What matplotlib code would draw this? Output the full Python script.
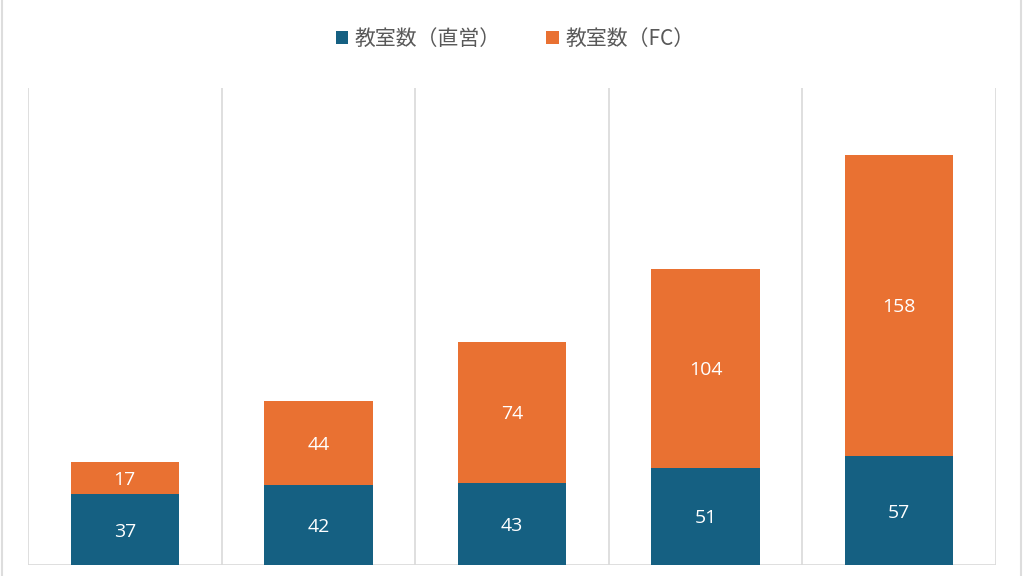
import matplotlib.pyplot as plt
import numpy as np
from matplotlib.lines import Line2D

plt.rcParams['font.family'] = ['Noto Sans CJK JP', 'DejaVu Sans']

# data
categories = ['1', '2', '3', '4', '5']
direct = [37, 42, 43, 51, 57]
fc = [17, 44, 74, 104, 158]
labels = ['教室数（直営）', '教室数（FC）']

blue = '#156082'
orange = '#E97132'
grid = '#D9D9D9'

fig = plt.figure(figsize=(10.24, 5.76), dpi=100)
ax = fig.add_axes([0.0273, 0.0191, 0.9454, 0.8281])

x = np.arange(len(categories))
w = 0.56
b1 = ax.bar(x, direct, w, color=blue, label=labels[0], zorder=3)
b2 = ax.bar(x, fc, w, bottom=direct, color=orange, label=labels[1], zorder=3)

for bars, vals, bottoms in [(b1, direct, [0] * 5), (b2, fc, direct)]:
    for rect, v, b in zip(bars, vals, bottoms):
        ax.text(rect.get_x() + rect.get_width() / 2, b + v / 2 - 1, str(v),
                ha='center', va='center', color='white', fontsize=14,
                family='Open Sans', zorder=4)

ax.set_xlim(-0.5, len(categories) - 0.5)
ax.set_ylim(0, 250)
for xv in np.arange(-0.5, len(categories), 1.0):
    ax.axvline(xv, color=grid, lw=1.2, zorder=1)
ax.axhline(0, color=grid, lw=1.2, zorder=2)
for s in ax.spines.values():
    s.set_visible(False)
ax.set_xticks([])
ax.set_yticks([])

fig.legend(handles=[b1, b2], labels=labels, loc='center', bbox_to_anchor=(0.503, 0.932),
           ncol=2, frameon=False, fontsize=15, labelcolor='#595959',
           handlelength=0.6, handleheight=0.6, handletextpad=0.3, columnspacing=2.2)

# faint frame at the image edges
fig.add_artist(Line2D([0.002, 0.002], [0, 1], transform=fig.transFigure, color='#DDDDDD', lw=1.5))
fig.add_artist(Line2D([0.997, 0.997], [0, 1], transform=fig.transFigure, color='#DDDDDD', lw=1.5))

fig.savefig('out.png', dpi=100)
